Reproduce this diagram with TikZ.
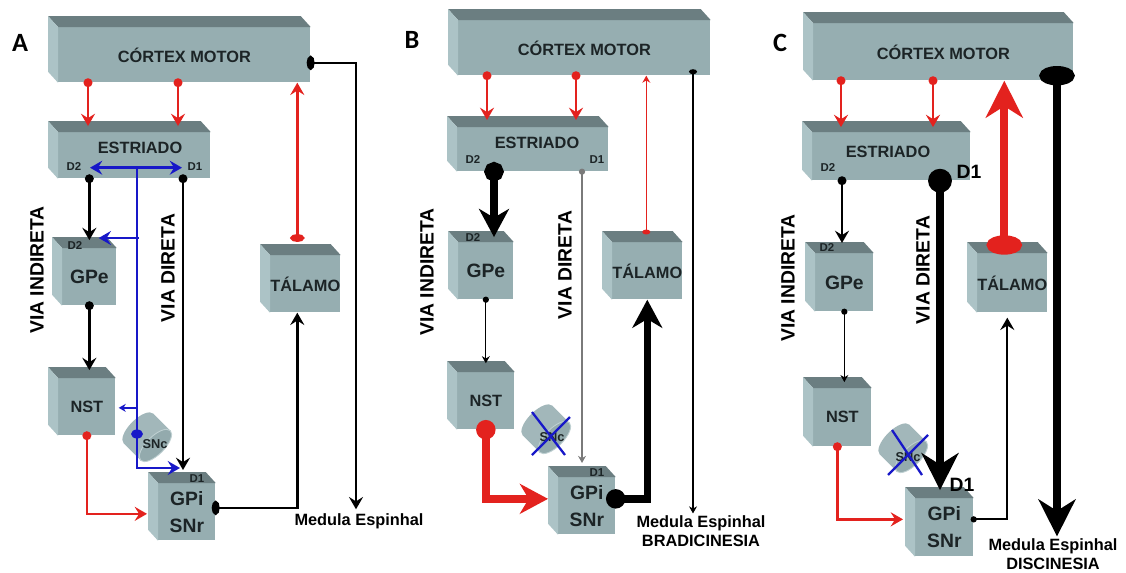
\documentclass[tikz,border=0pt]{standalone}
\usepackage{fontspec}
\setmainfont{Liberation Sans}
\newfontfamily\letterfont{Carlito}
\usetikzlibrary{arrows.meta,calc}
\definecolor{boxfront}{HTML}{96AEB1}
\definecolor{boxtop}{HTML}{6B7E81}
\definecolor{boxside}{HTML}{ACC3C6}
\definecolor{ink}{HTML}{1C2426}
\definecolor{nred}{HTML}{E3221E}
\definecolor{nblue}{HTML}{1818C8}
\definecolor{drum}{HTML}{A2B7BA}
\definecolor{drumcap}{HTML}{93AAAD}
\definecolor{drumrim}{HTML}{BFD0D2}
\definecolor{fibgray}{HTML}{7A7A7A}
\tikzset{
  dotS/.tip={Circle[length=3.5pt]},
  dotM/.tip={Circle[length=5pt]},
  dotL/.tip={Circle[length=11pt]},
  dotXL/.tip={Circle[length=13.5pt]},
  ovS/.tip={Ellipse[length=2.8pt,width=4.5pt]},
  ovM/.tip={Ellipse[length=4.5pt,width=8pt]},
  ovL/.tip={Ellipse[length=11pt,width=20pt]},
  headS/.tip={Stealth[length=4pt,width=4.5pt,inset=1.3pt]},
  headM/.tip={Stealth[length=7pt,width=8pt,inset=2.5pt]},
  headL/.tip={Stealth[length=16pt,width=17pt,inset=5pt]},
  headXL/.tip={Stealth[length=21pt,width=21pt,inset=6.5pt]},
  box/.style={fill=boxfront,inner sep=0pt,anchor=north west,text=ink,
    font=\bfseries\fontsize{9.3}{11}\selectfont},
  cube/.style={box,minimum width=1.14cm,minimum height=1.14cm},
  gfont/.style={align=center,font=\bfseries\fontsize{11}{15.3}\selectfont},
  boxtxt/.style={text=ink,inner sep=0pt,font=\bfseries\fontsize{9.3}{11}\selectfont},
  dlab/.style={text=ink,inner sep=0pt,font=\bfseries\fontsize{6.5}{7}\selectfont},
  dbig/.style={text=black,inner sep=0pt,font=\bfseries\fontsize{11}{12}\selectfont},
  sntxt/.style={text=ink,inner sep=0pt,font=\bfseries\fontsize{7.3}{8}\selectfont},
  via/.style={rotate=90,inner sep=0pt,font=\bfseries\fontsize{11}{12}\selectfont},
  med/.style={align=center,inner sep=1pt,font=\bfseries\fontsize{9.3}{10.8}\selectfont},
  letter/.style={inner sep=0pt,font=\letterfont\bfseries\fontsize{15}{17}\selectfont},
  fibS/.style={line width=0.7pt,dotS-headS,shorten <=-1.75pt},
  fibM/.style={line width=1.5pt,dotM-headM,shorten <=-2.5pt},
  fibL/.style={line width=4.3pt,dotL-headL,shorten <=-5.5pt},
  daline/.style={draw=nblue,line width=1.4pt}
}
\begin{document}
\begin{tikzpicture}[x=0.02cm,y=-0.02cm]
\path[use as bounding box,fill=white] (0,0) rectangle (1126,572);

\node[letter] (labA) at (20,43) {A};
\node[letter] (labB) at (412,40) {B};
\node[letter] (labC) at (780,43) {C};

% front faces of the blocks
\node[box,minimum width=5.04cm,minimum height=1.1cm] (ctxA) at (58,27) {CÓRTEX MOTOR};
\node[box,minimum width=3.04cm,minimum height=0.92cm] (estA) at (58,132) {};
\node[cube,gfont,minimum width=1.08cm] (gpeA) at (62,248) {GPe};
\node[cube] (nstA) at (58,378) {NST};
\node[cube,gfont] (gpiA) at (158,483) {GPi\\SNr};
\node[cube,minimum width=1.26cm] (talA) at (270,255) {TÁLAMO};

\node[box,minimum width=5.04cm,minimum height=1.1cm] (ctxB) at (458,20) {CÓRTEX MOTOR};
\node[box,minimum width=3.02cm,minimum height=0.88cm] (estB) at (457,127) {};
\node[cube,gfont,minimum width=1.1cm] (gpeB) at (458,242) {GPe};
\node[cube] (nstB) at (457,372) {NST};
\node[cube,gfont] (gpiB) at (558,477) {GPi\\SNr};
\node[cube,minimum width=1.28cm] (talB) at (612,242) {TÁLAMO};

\node[box,minimum width=5.2cm,minimum height=1.14cm] (ctxC) at (813,23) {CÓRTEX MOTOR};
\node[box,minimum width=3.16cm,minimum height=0.96cm] (estC) at (812,132) {};
\node[cube,gfont,minimum size=1.16cm] (gpeC) at (815,253) {GPe};
\node[cube,minimum size=1.16cm] (nstC) at (813,388) {NST};
\node[cube,gfont,minimum size=1.16cm] (gpiC) at (915,498) {GPi\\SNr};
\node[cube,minimum width=1.32cm,minimum height=1.18cm] (talC) at (977,253) {TÁLAMO};

% top and left faces
\foreach \b in {ctxA,estA,gpeA,nstA,gpiA,talA,ctxB,estB,gpeB,nstB,gpiB,talB,ctxC,estC,gpeC,nstC,gpiC,talC}{
  \fill[boxtop] (\b.north west) -- ++(-10,-11) -- ($(\b.north east)+(-10,-11)$) -- (\b.north east) -- cycle;
  \fill[boxside] (\b.north west) -- ++(-10,-11) -- ($(\b.south west)+(-10,-11)$) -- (\b.south west) -- cycle;
}

% SNc drums
\foreach \cx/\cy in {147/437,546/429,903/448}{
  \begin{scope}[shift={(\cx,\cy)},rotate=-45]
    \fill[drum] (-12,0) ellipse [x radius=9,y radius=21];
    \fill[drum] (-12,-21) rectangle (12,21);
    \fill[drumcap,draw=drumrim,line width=0.5pt] (12,0) ellipse [x radius=9,y radius=21];
  \end{scope}
}
\node[sntxt] (sncA) at (155,444) {SNc};
\node[sntxt] (sncB) at (552,437) {SNc};
\node[sntxt] (sncC) at (908,457) {SNc};

\node[boxtxt] (estAt) at (140,148) {ESTRIADO};
\node[boxtxt] (estBt) at (537,143) {ESTRIADO};
\node[boxtxt] (estCt) at (888,152) {ESTRIADO};

\node[dlab] (d2A) at (74,167) {D2};
\node[dlab] (d1A) at (195,167) {D1};
\node[dlab] (d2gA) at (75,246) {D2};
\node[dlab] (d1gA) at (197,479) {D1};
\node[dlab] (d2B) at (473,160) {D2};
\node[dlab] (d1B) at (597,160) {D1};
\node[dlab] (d2gB) at (473,238) {D2};
\node[dlab] (d1gB) at (597,473) {D1};
\node[dlab] (d2C) at (828,168) {D2};
\node[dbig] (d1C) at (969,172) {D1};
\node[dlab] (d2gC) at (827,248) {D2};
\node[dbig] (d1gC) at (962,485) {D1};

\node[via] (viaIA) at (37,270) {VIA INDIRETA};
\node[via] (viaDA) at (168,268) {VIA DIRETA};
\node[via] (viaIB) at (427,272) {VIA INDIRETA};
\node[via] (viaDB) at (565,265) {VIA DIRETA};
\node[via] (viaIC) at (788,278) {VIA INDIRETA};
\node[via] (viaDC) at (923,270) {VIA DIRETA};

\node[med] (medA) at (359,521) {Medula Espinhal};
\node[med] (medB) at (701,531) {Medula Espinhal\\BRADICINESIA};
\node[med] (medC) at (1053,554) {Medula Espinhal\\DISCINESIA};

% ---- A: normal state
\foreach \dx in {30,120}
  \draw[fibM,nred,shorten >=3.4pt] ($(ctxA.south west)+(\dx,0)$) coordinate (s) -- (s |- estA.north);
\coordinate (daA) at (137,434);
\draw[daline] (daA) -- ($(estA.south west)+(79,-11)$);
\draw[daline,headM-headM] ($(estA.south west)+(32,-11)$) -- ($(estA.south west)+(124,-11)$);
\draw[daline,-headM] ($(gpeA.north east)+(22,-10)$) -- ($(gpeA.north east)+(-18,-10)$);
\draw[daline,-headS] ($(nstA.east)+(22,1)$) -- ($(nstA.east)+(3,1)$);
\draw[daline,-headM] (daA) |- ($(gpiA.north west)+(22,-15)$);
\fill[nblue] (daA) ellipse [x radius=6,y radius=4.5];
\draw[fibM,shorten >=4.5pt] (estA.south -| gpeA.north) -- (gpeA.north);
\draw[fibM,shorten >=7.4pt] ($(estA.south west)+(125,0)$) coordinate (s) -- (s |- gpiA.north);
\draw[fibM,shorten >=4.5pt] (gpeA.south) -- (gpeA.south |- nstA.north);
\draw[fibM,nred] (nstA.south) |- ($(gpiA.west)+(-11,2)$);
\draw[fibM,ovM-headM,shorten <=-2.25pt] ($(gpiA.east)+(0,-4)$) -| ($(talA.south)+(-8,0)$);
\coordinate (talAout) at ($(talA.north)+(-8,-17)$);
\draw[fibM,nred,ovM-headM,shorten <=-2.25pt] (talAout) -- (talAout |- ctxA.south);
\coordinate (ctxAout) at ($(ctxA.east)+(0,8)$);
\draw[fibM,ovM-headM,shorten <=-2.25pt] (ctxAout) -| ($(medA.north)+(-3,-2)$);

% ---- B: bradykinesia
\foreach \dx in {29,118}
  \draw[fibM,nred,shorten >=4pt] ($(ctxB.south west)+(\dx,0)$) coordinate (s) -- (s |- estB.north);
\draw[fibL,line width=5pt,shorten >=2.8pt] ($(estB.south west)+(37,0)$) coordinate (s) -- (s |- gpeB.north);
\draw[fibS,fibgray,shorten >=8pt] ($(estB.south west)+(125,0)$) coordinate (s) -- (s |- gpiB.north);
\draw[fibS,shorten >=5pt] (gpeB.south) -- (gpeB.south |- nstB.north);
\draw[fibL,nred] (nstB.south) |- ($(gpiB.west)+(-10,-7)$);
\draw[fibL] ($(gpiB.east)+(0,-7)$) -| (talB.south);
\coordinate (talBout) at ($(talB.north)+(-1,-10)$);
\draw[fibS,nred,line width=0.6pt,ovS-headS,shorten <=-1.4pt] (talBout) -- (talBout |- ctxB.south);
\coordinate (ctxBout) at ($(ctxB.south west)+(235,-4)$);
\draw[fibS,ovS-headS,shorten <=-1.4pt] (ctxBout) -- (ctxBout |- medB.north);
\draw[nblue,line width=1.3pt] (532,412) -- (565,455) (570,417) -- (532,455);

% ---- C: dyskinesia
\foreach \dx in {28,120}
  \draw[fibM,nred,shorten >=2.8pt] ($(ctxC.south west)+(\dx,0)$) coordinate (s) -- (s |- estC.north);
\draw[fibM,shorten >=5.7pt] ($(estC.south west)+(30,0)$) coordinate (s) -- (s |- gpeC.north);
\draw[fibL,dotXL-headXL,shorten <=-6.75pt,shorten >=4.5pt] ($(estC.south west)+(128,0)$) coordinate (s) -- (s |- gpiC.north);
\draw[fibS,shorten >=3.4pt] (gpeC.south) -- (gpeC.south |- nstC.north);
\draw[fibM,nred] ($(nstC.south)+(-5,0)$) |- ($(gpiC.west)+(-12,-8)$);
\draw[fibS,line width=1.1pt,dotS-headM] ($(gpiC.east)+(0,-8)$) -| ($(talC.south)+(-5,5)$);
\coordinate (talCout) at ($(talC.north)+(-8,-8)$);
\draw[fibL,nred,line width=4.6pt,ovL-headXL,shorten <=-5.5pt] (talCout) -- (talCout |- ctxC.south);
\coordinate (ctxCout) at ($(ctxC.south west)+(244,-5)$);
\draw[fibL,ovL-headXL,shorten <=-5.5pt] (ctxCout) -- (ctxCout |- medC.north);
\draw[nblue,line width=1.3pt] (892,430) -- (922,475) (928,435) -- (888,475);
\end{tikzpicture}
\end{document}
